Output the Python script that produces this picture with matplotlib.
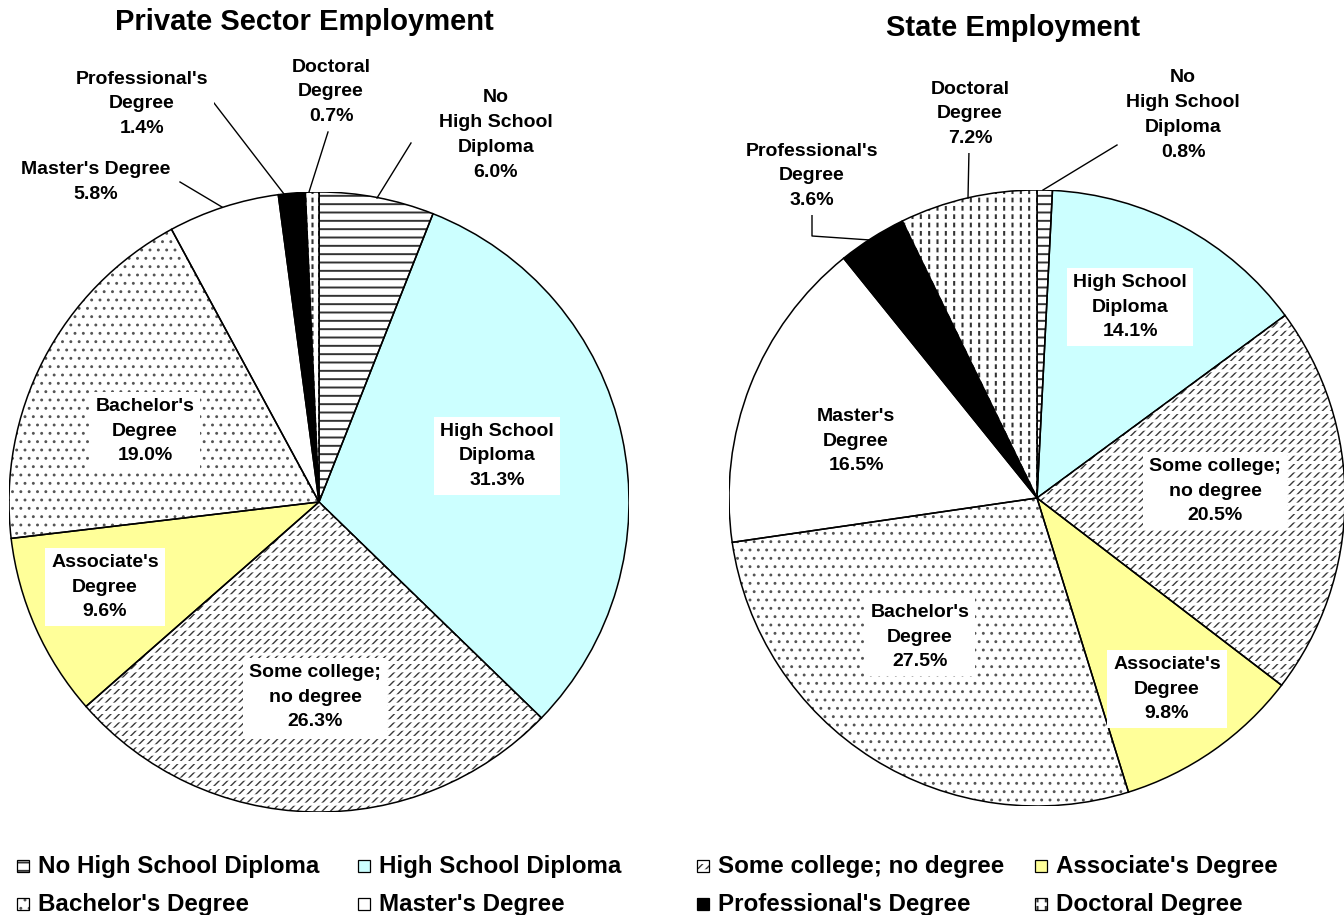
import numpy as np
import matplotlib
matplotlib.use('Agg')
import matplotlib.pyplot as plt
from matplotlib.patches import Wedge, Rectangle

plt.rcParams['font.family'] = ['Liberation Sans', 'DejaVu Sans']
plt.rcParams['font.weight'] = 'bold'

W, H = 1344, 915

categories = ['No High School Diploma', 'High School Diploma', 'Some college; no degree',
              "Associate's Degree", "Bachelor's Degree", "Master's Degree",
              "Professional's Degree", 'Doctoral Degree']
private_pct = [6.0, 31.3, 26.3, 9.6, 19.0, 5.8, 1.4, 0.7]
state_pct = [0.8, 14.1, 20.5, 9.8, 27.5, 16.5, 3.6, 7.2]

private_names = ['No\nHigh School\nDiploma', 'High School\nDiploma', 'Some college;\nno degree',
                 "Associate's\nDegree", "Bachelor's\nDegree", "Master's Degree",
                 "Professional's\nDegree", 'Doctoral\nDegree']
state_names = ['No\nHigh School\nDiploma', 'High School\nDiploma', 'Some college;\nno degree',
               "Associate's\nDegree", "Bachelor's\nDegree", "Master's\nDegree",
               "Professional's\nDegree", 'Doctoral\nDegree']

# fill colour and hatch layers (pattern, colour, hatch linewidth) per category
faces = ['white', '#CCFFFF', 'white', '#FFFF99', 'white', 'white', 'black', 'white']
hatch_layers = [
    [('--', '#333333', 1.4)],
    [],
    [('////', '#3a3a3a', 1.0), ('--', 'white', 2.2)],
    [],
    [('..', '#555555', 0.9)],
    [],
    [],
    [('||', '#333333', 1.5), ('--', 'white', 2.6)],
]

# label centres and leader lines, in pixels
private_label_px = [(496, 135), (497, 456), (315, 697), (105, 587),
                    (145, 431), (96, 182), (142, 104), (331, 92)]
private_leaders = {0: [(411, 143), (377, 198)], 5: [(180, 182), (222, 207)],
                   6: [(214, 103), (284, 194)], 7: [(328, 132), (309, 192)]}
state_label_px = [(1183, 115), (1130, 307), (1215, 491), (1167, 689),
                  (920, 637), (856, 441), (812, 176), (970, 114)]
state_leaders = {0: [(1117, 145), (1043, 190)], 6: [(812, 215), (812, 236), (870, 240)],
                 7: [(969, 150), (968, 198)]}


def set_hlw(p, lw):
    if hasattr(p, 'set_hatch_linewidth'):
        p.set_hatch_linewidth(lw)


def styled(make, i, edge_lw):
    arts = []
    for h, c, lw in hatch_layers[i]:
        with plt.rc_context({'hatch.linewidth': lw}):
            p = make(facecolor='none', edgecolor=c, linewidth=0, hatch=h)
        set_hlw(p, lw)
        arts.append(p)
    arts.append(make(fill=False, edgecolor='black', linewidth=edge_lw))
    return arts


fig = plt.figure(figsize=(W / 100, H / 100), dpi=100)


def draw_pie(vals, names, label_px, leaders, cx, cy, r, title, tx, ty):
    ax = fig.add_axes([(cx - r) / W, 1 - (cy + r) / H, 2 * r / W, 2 * r / H])
    wedges, _ = ax.pie(vals, colors=faces, startangle=90, counterclock=False,
                       radius=1, wedgeprops=dict(linewidth=0))
    for i, w in enumerate(wedges):
        mk = lambda **kw: Wedge((0, 0), 1, w.theta1, w.theta2, **kw)
        for a in styled(mk, i, 1.1):
            a.set_zorder(3)
            ax.add_patch(a)
    to_d = lambda x, y: ((x - cx) / r, (cy - y) / r)
    for i, (v, n) in enumerate(zip(vals, names)):
        x, y = to_d(*label_px[i])
        ax.text(x, y, '%s\n%.1f%%' % (n, v), ha='center', va='center', fontsize=14,
                linespacing=1.6, zorder=6, fontweight='bold',
                bbox=dict(boxstyle='square,pad=0.3', fc='white', ec='none'))
    for i, pts in leaders.items():
        xs, ys = zip(*[to_d(*p) for p in pts])
        ax.plot(xs, ys, color='black', lw=1.0, zorder=5, clip_on=False)
    ax.set_xlim(-1, 1)
    ax.set_ylim(-1, 1)
    ax.set_aspect('equal', adjustable='box')
    ax.axis('off')
    fig.text(tx / W, 1 - ty / H, title, ha='center', va='center', fontsize=21, fontweight='bold')


draw_pie(private_pct, private_names, private_label_px, private_leaders,
         319, 502, 310, 'Private Sector Employment', 304, 22)
draw_pie(state_pct, state_names, state_label_px, state_leaders,
         1037, 498, 308, 'State Employment', 1013, 28)

# legend, two rows of four
leg_text_x = [38, 379, 718, 1056]
leg_row_y = [866, 904]
sq = 12
for i, name in enumerate(categories):
    tx = leg_text_x[i % 4]
    ty = leg_row_y[i // 4]
    x0, y0 = tx - 21, ty + sq / 2
    mk = lambda **kw: Rectangle((x0 / W, 1 - y0 / H), sq / W, sq / H,
                                transform=fig.transFigure, **kw)
    fig.add_artist(mk(facecolor=faces[i], edgecolor='none', linewidth=0))
    for a in styled(mk, i, 0.9):
        fig.add_artist(a)
    fig.text(tx / W, 1 - ty / H, name, ha='left', va='center', fontsize=17.4, fontweight='bold')

fig.savefig('out.png', dpi=100, facecolor='white')
